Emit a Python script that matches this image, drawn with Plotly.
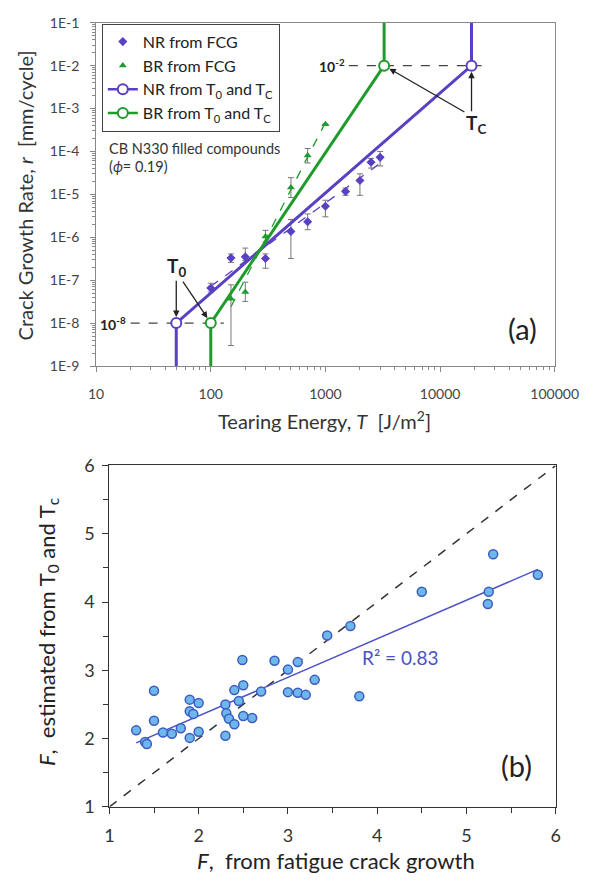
import numpy as np
import plotly.graph_objects as go

# ---------------- Panel (a) data ----------------
NR_T = [100, 150, 200, 300, 500, 700, 1000, 1500, 2000, 2500, 3000]
NR_R = [6.6e-8, 3.3e-7, 3.5e-7, 3.2e-7, 1.37e-6, 2.3e-6, 5.3e-6, 1.17e-5, 2.1e-5, 5.6e-5, 7.3e-5]
NR_HI = [8.5e-8, 4.1e-7, 5.6e-7, 4.1e-7, 2.6e-6, 3.5e-6, 7.3e-6, 1.4e-5, 3.0e-5, 6.9e-5, 1.0e-4]
NR_LO = [5.3e-8, 2.6e-7, 2.85e-7, 1.9e-7, 3.2e-7, 1.5e-6, 3.0e-6, 9.5e-6, 9.5e-6, 4.1e-5, 4.6e-5]

BR_T = [150, 200, 300, 500, 700, 1000]
BR_R = [3.7e-8, 5.3e-8, 1.05e-6, 1.44e-5, 8.1e-5, 4.3e-4]
BR_HI = [7.8e-8, 9.0e-8, 1.45e-6, 2.45e-5, 1.17e-4, 4.3e-4]
BR_LO = [3.0e-9, 3.2e-8, 7.8e-7, 8.5e-6, 5.4e-5, 4.3e-4]

NR_T0, NR_TC = 50, 18800
BR_T0, BR_TC = 100, 3250
R_T0, R_TC = 1e-8, 1e-2
R_MIN, R_MAX = 1e-9, 1e-1

Y_TICKVALS = [1e-9, 1e-8, 1e-7, 1e-6, 1e-5, 1e-4, 1e-3, 1e-2, 1e-1]
Y_TICKTEXT = ["1E-9", "1E-8", "1E-7", "1E-6", "1E-5", "1E-4", "1E-3", "1E-2", "1E-1"]
X_TICKVALS = [10, 100, 1000, 10000, 100000]
X_TICKTEXT = ["10", "100", "1000", "10000", "100000"]

# ---------------- Panel (b) data ----------------
F_FCG = [1.30, 1.40, 1.42, 1.50, 1.50, 1.60, 1.70, 1.80, 1.90, 1.90, 1.90, 1.94, 2.00, 2.00,
         2.30, 2.31, 2.34, 2.30, 2.40, 2.40, 2.45, 2.49, 2.50, 2.50, 2.60, 2.70, 2.85, 3.00,
         3.00, 3.11, 3.11, 3.20, 3.30, 3.44, 3.70, 3.80, 4.50, 5.30, 5.25, 5.24, 5.80]
F_EST = [2.12, 1.95, 1.92, 2.70, 2.26, 2.09, 2.07, 2.15, 2.57, 2.40, 2.01, 2.36, 2.52, 2.10,
         2.50, 2.37, 2.29, 2.04, 2.71, 2.21, 2.55, 3.15, 2.78, 2.33, 2.30, 2.69, 3.14, 3.01,
         2.68, 3.12, 2.67, 2.64, 2.86, 3.51, 3.65, 2.62, 4.15, 4.70, 4.15, 3.97, 4.40]
IDENTITY = [1, 6]

PURPLE = "#5a40c2"
GREEN = "#1f9b2c"
FONT = "Lato"

fig = go.Figure()

def powerfit(T, R):
    p = np.polyfit(np.log10(T), np.log10(R), 1)
    xs = np.array([min(T), max(T)], dtype=float)
    return xs, 10 ** np.polyval(p, np.log10(xs))

nx, ny = powerfit(NR_T, NR_R)
bx, by = powerfit(BR_T, BR_R)
fig.add_trace(go.Scatter(x=nx, y=ny, mode="lines", line=dict(color=PURPLE, width=1.3, dash="dash"),
                         showlegend=False))
fig.add_trace(go.Scatter(x=bx, y=by, mode="lines", line=dict(color=GREEN, width=1.3, dash="dash"),
                         showlegend=False))

fig.add_trace(go.Scatter(x=[20, 130], y=[R_T0, R_T0], mode="lines",
                         line=dict(color="#444", width=1.3, dash="dash"), showlegend=False))
fig.add_trace(go.Scatter(x=[1600, 23000], y=[R_TC, R_TC], mode="lines",
                         line=dict(color="#444", width=1.3, dash="dash"), showlegend=False))

fig.add_trace(go.Scatter(
    x=NR_T, y=NR_R, mode="markers", name="NR from FCG",
    marker=dict(symbol="diamond", size=7, color=PURPLE),
    error_y=dict(type="data", array=[h - r for h, r in zip(NR_HI, NR_R)],
                 arrayminus=[r - l for r, l in zip(NR_R, NR_LO)],
                 color="#777", thickness=1, width=3)))
fig.add_trace(go.Scatter(
    x=BR_T, y=BR_R, mode="markers", name="BR from FCG",
    marker=dict(symbol="triangle-up", size=7, color=GREEN),
    error_y=dict(type="data", array=[h - r for h, r in zip(BR_HI, BR_R)],
                 arrayminus=[r - l for r, l in zip(BR_R, BR_LO)],
                 color="#777", thickness=1, width=3)))

for T0, TC, col, nm in [(NR_T0, NR_TC, PURPLE, "NR from T<sub>0</sub> and T<sub>C</sub>"),
                        (BR_T0, BR_TC, GREEN, "BR from T<sub>0</sub> and T<sub>C</sub>")]:
    fig.add_trace(go.Scatter(x=[T0, T0, TC, TC], y=[R_MIN, R_T0, R_TC, R_MAX], mode="lines",
                             line=dict(color=col, width=3), showlegend=False))
    fig.add_trace(go.Scatter(x=[T0, TC], y=[R_T0, R_TC], mode="markers", showlegend=False,
                             marker=dict(symbol="circle", size=10, color="white",
                                         line=dict(color=col, width=2))))
    fig.add_trace(go.Scatter(x=[None], y=[None], mode="lines+markers", name=nm,
                             line=dict(color=col, width=2.5),
                             marker=dict(symbol="circle", size=10, color="white",
                                         line=dict(color=col, width=2))))

# ---------------- Panel (b) traces ----------------
fig.add_trace(go.Scatter(x=IDENTITY, y=IDENTITY, mode="lines", xaxis="x2", yaxis="y2",
                         line=dict(color="#333", width=1.5, dash="dash"), showlegend=False))
p = np.polyfit(F_FCG, F_EST, 1)
fx = np.array([min(F_FCG), max(F_FCG)])
fig.add_trace(go.Scatter(x=fx, y=np.polyval(p, fx), mode="lines", xaxis="x2", yaxis="y2",
                         line=dict(color="#4a52c6", width=1.5), showlegend=False))
fig.add_trace(go.Scatter(x=F_FCG, y=F_EST, mode="markers", xaxis="x2", yaxis="y2",
                         marker=dict(size=9, color="#6db7ec", line=dict(color="#3c5cc0", width=1.5)),
                         showlegend=False))

W, H = 610, 889
def px(x): return x / W
def py(y): return 1 - y / H

lg = np.log10
ann = []

def txt(x, y, text, size, color="#222", xref="paper", yref="paper", xa="center", ya="middle", angle=0):
    ann.append(dict(x=x, y=y, xref=xref, yref=yref, text=text, showarrow=False,
                    xanchor=xa, yanchor=ya, textangle=angle, font=dict(size=size, color=color)))

# panel (a) annotations
txt(lg(19), lg(R_T0), "<b>10<sup>-8</sup></b>", 14, xref="x", yref="y", xa="right")
txt(lg(1550), lg(R_TC), "<b>10<sup>-2</sup></b>", 14, xref="x", yref="y", xa="right")
txt(lg(50), -6.7, "<b>T<sub>0</sub></b>", 19, xref="x", yref="y")
txt(lg(20500), -3.36, "<b>T<sub>C</sub></b>", 19, xref="x", yref="y")
arrows = [((lg(NR_T0), lg(R_T0)), (lg(NR_T0), -6.98)),
          ((lg(BR_T0), lg(R_T0)), (lg(56), -7.0)),
          ((lg(NR_TC), lg(R_TC)), (lg(NR_TC), -3.1)),
          ((lg(BR_TC), lg(R_TC)), (lg(16800), -3.1))]
for (hx, hy), (tx, ty) in arrows:
    ann.append(dict(x=hx, y=hy, ax=tx, ay=ty, xref="x", yref="y", axref="x", ayref="y",
                    text="", showarrow=True, arrowhead=2, arrowsize=1, arrowwidth=1.3,
                    arrowcolor="#222", standoff=6))
txt(px(104), py(140), "CB N330 filled compounds", 14.5, color="#333", xa="left")
txt(px(104), py(158), "(<i>ϕ</i>= 0.19)", 14.5, color="#333", xa="left")
txt(px(543), py(325), "(a)", 29)
txt(px(18), py(188), "Crack Growth Rate, <i>r</i>  [mm/cycle]", 20, color="#333", angle=-90)
txt(px(334), py(418), "Tearing Energy, <i>T</i>  [J/m<sup>2</sup>]", 20, color="#333")
# panel (b) annotations
txt(4.26, 3.19, "R² = 0.83", 19, color="#4a52c6", xref="x2", yref="y2")
txt(px(537), py(773), "(b)", 29)
txt(px(346), py(870), "<i>F</i>,  from fatigue crack growth", 22)
txt(px(42), py(636), "<i>F</i>,  estimated from T<sub>0</sub> and T<sub>c</sub>", 22, angle=-90)

fig.update_layout(
    width=W, height=H, margin=dict(l=0, r=0, t=0, b=0),
    paper_bgcolor="white", plot_bgcolor="white",
    font=dict(family=FONT, color="#333"),
    annotations=ann,
    legend=dict(x=px(99), y=py(12), xanchor="left", yanchor="top",
                bordercolor="#444", borderwidth=1, bgcolor="white",
                font=dict(size=16, color="#222"), itemwidth=30, tracegroupgap=0),
    xaxis=dict(domain=[px(93), px(577)], type="log", range=[1, 5],
               tickvals=X_TICKVALS, ticktext=X_TICKTEXT, ticks="outside", ticklen=5,
               tickcolor="#888", linecolor="#888", linewidth=1, mirror=True, showgrid=False,
               zeroline=False, tickfont=dict(size=14, color="#444"), ticklabelstandoff=10,
               minor=dict(ticks="outside", ticklen=3, tickcolor="#888", dtick="D1", showgrid=False),
               anchor="y"),
    yaxis=dict(domain=[py(363), py(11)], type="log", range=[-9, -1],
               tickvals=Y_TICKVALS, ticktext=Y_TICKTEXT, ticks="outside", ticklen=5,
               tickcolor="#888", linecolor="#888", linewidth=1, mirror=True, showgrid=False,
               zeroline=False, tickfont=dict(size=14, color="#444"), ticklabelstandoff=8,
               minor=dict(ticks="outside", ticklen=3, tickcolor="#888", dtick="D1", showgrid=False),
               anchor="x"),
    xaxis2=dict(domain=[px(107), px(578)], range=[1, 6], dtick=1, ticks="outside", ticklen=6,
                tickcolor="#333", linecolor="#333", linewidth=1.2, mirror=True, showgrid=False,
                zeroline=False, tickfont=dict(size=18, color="#333"), ticklabelstandoff=6,
                minor=dict(ticks="outside", ticklen=5, dtick=0.5, tickcolor="#333"),
                anchor="y2"),
    yaxis2=dict(domain=[py(815), py(465)], range=[1, 6], dtick=1, ticks="outside", ticklen=6,
                tickcolor="#333", linecolor="#333", linewidth=1.2, mirror=True, showgrid=False,
                zeroline=False, tickfont=dict(size=18, color="#333"), ticklabelstandoff=4,
                minor=dict(ticks="outside", ticklen=5, dtick=0.5, tickcolor="#333"),
                anchor="x2"),
)

fig.write_html("out.html")
